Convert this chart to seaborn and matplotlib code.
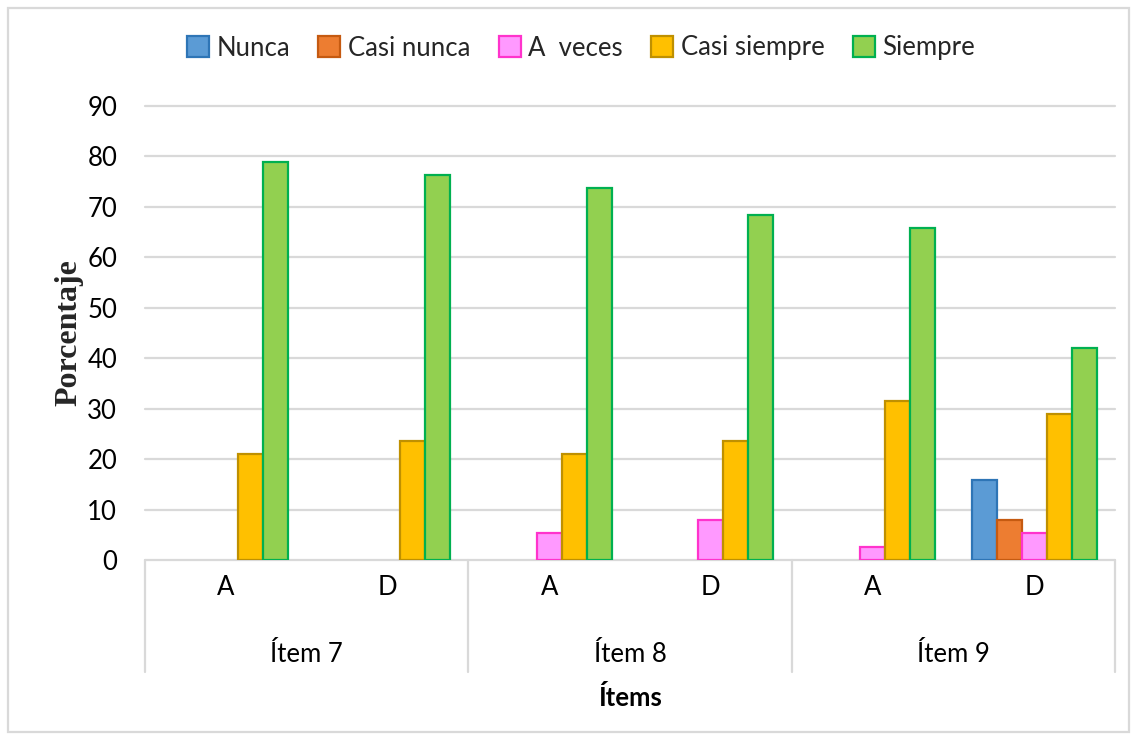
import matplotlib
matplotlib.use("Agg")
import matplotlib.pyplot as plt
import matplotlib.transforms as mtransforms
from matplotlib.patches import Rectangle, Patch
from matplotlib.lines import Line2D
import seaborn as sns
import pandas as pd

# Survey responses (percentage) per item and respondent group
items = ["Ítem 7", "Ítem 8", "Ítem 9"]
groups = ["A", "D"]
responses = ["Nunca", "Casi nunca", "A  veces", "Casi siempre", "Siempre"]

nunca = [0, 0, 0, 0, 0, 15.79]
casi_nunca = [0, 0, 0, 0, 0, 7.89]
a_veces = [0, 0, 5.26, 7.89, 2.63, 5.26]
casi_siempre = [21.05, 23.68, 21.05, 23.68, 31.58, 28.95]
siempre = [78.95, 76.32, 73.68, 68.42, 65.79, 42.11]

fills = ["#5B9BD5", "#ED7D31", "#FF99FF", "#FFC000", "#92D050"]
edges = ["#2E75B6", "#C55A11", "#FF33CC", "#BF9000", "#00B050"]

series = [nunca, casi_nunca, a_veces, casi_siempre, siempre]
cats = [f"{it}|{g}" for it in items for g in groups]
rows = []
for resp, vals in zip(responses, series):
    for c, v in zip(cats, vals):
        rows.append({"cat": c, "resp": resp, "val": v})
df = pd.DataFrame(rows)

sns.set_style("white")
plt.rcParams["font.family"] = ["Lato", "DejaVu Sans"]

FS = 18.5
W, H = 1137, 740
fig = plt.figure(figsize=(W / 100, H / 100), dpi=100)
ax = fig.add_axes([145 / W, 1 - 560 / H, (1115 - 145) / W, (560 - 106) / H])

sns.barplot(data=df, x="cat", y="val", hue="resp", order=cats,
            hue_order=responses, palette=dict(zip(responses, fills)),
            width=0.775, saturation=1, ax=ax, legend=False, zorder=3)

for cont, ec in zip(ax.containers, edges):
    for bar in cont:
        if bar.get_height() > 0:
            bar.set_edgecolor(ec)
            bar.set_linewidth(1.6)
        else:
            bar.set_linewidth(0)
            bar.set_visible(False)

grid_c = "#D9D9D9"
ax.set_ylim(0, 90)
ax.set_xlim(-0.5, len(cats) - 0.5)
ax.set_yticks(range(0, 91, 10))
ax.yaxis.grid(True, color=grid_c, linewidth=1.6, zorder=0)
ax.set_axisbelow(True)
for sp in ax.spines.values():
    sp.set_visible(False)
for gl in ax.get_ygridlines():
    gl.set_clip_on(False)

ax.tick_params(axis="y", length=0, pad=20, labelsize=FS, labelcolor="#000000")
ax.set_xticks(range(len(cats)))
ax.set_xticklabels([c.split("|")[1] for c in cats], fontsize=FS)
ax.tick_params(axis="x", length=0, pad=11, labelcolor="#000000")
ax.set_xlabel("")
ax.set_ylabel("Porcentaje", family=["Liberation Serif"], fontweight="bold",
              fontsize=23, labelpad=3)

# Two-level category axis: separators and item names below the bars
trans = mtransforms.blended_transform_factory(ax.transData, fig.transFigure)
y_top = 1 - 560 / H
y_bot = 1 - 672 / H
for xb in [-0.5, 1.5, 3.5, 5.5]:
    ax.add_line(Line2D([xb, xb], [y_top, y_bot], transform=trans,
                       color=grid_c, linewidth=1.6, clip_on=False))
for i, it in enumerate(items):
    ax.text(2 * i + 0.5, 1 - 655 / H, it, transform=trans, ha="center",
            va="center", fontsize=FS, color="#000000")

fig.text((145 + 1115) / 2 / W, 1 - 697 / H, "Ítems", ha="center",
         va="center", fontsize=FS, fontweight="bold", color="#000000")

handles = [Patch(facecolor=f, edgecolor=e, linewidth=1.6, label=r)
           for f, e, r in zip(fills, edges, responses)]
fig.legend(handles=handles, loc="center", bbox_to_anchor=(581 / W, 1 - 48 / H),
           ncol=5, frameon=False, fontsize=FS, handlelength=0.85,
           handleheight=0.85, handletextpad=0.3, columnspacing=1.1)

# Outer chart border
fig.patches.append(Rectangle((8 / W, 8 / H), 1 - 16 / W, 1 - 16 / H,
                             transform=fig.transFigure, fill=False,
                             edgecolor=grid_c, linewidth=1.6))

fig.savefig("out.png", dpi=100)
